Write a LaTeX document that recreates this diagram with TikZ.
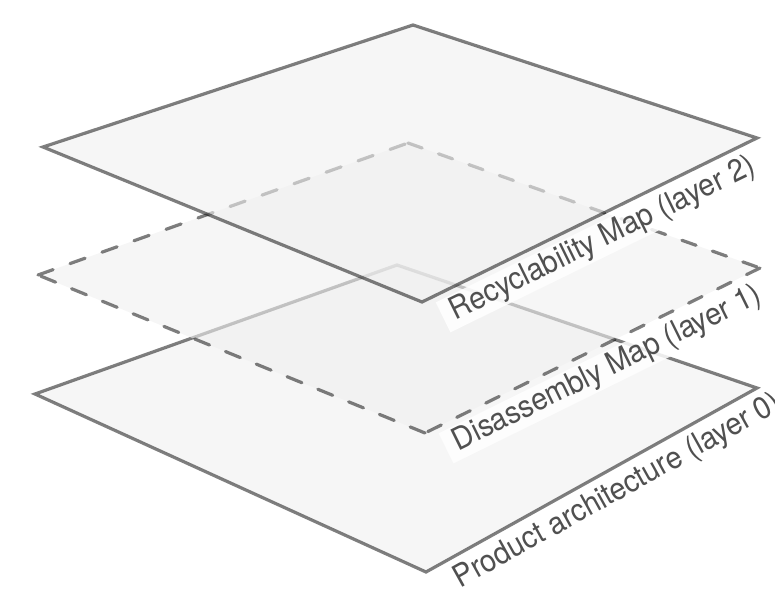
\documentclass[tikz,border=0pt]{standalone}
\usepackage{fontspec}
\setmainfont[FakeStretch=0.93]{TeX Gyre Heros}
\usetikzlibrary{calc}
\definecolor{txt}{HTML}{505050}
\definecolor{lyrfill}{HTML}{F0F0F0}
\begin{document}
\begin{tikzpicture}[x=1pt,y=-1pt,
  layerfill/.style={fill=lyrfill, fill opacity=0.6},
  layer/.style={layerfill, draw=black, draw opacity=0.5, line width=3.2pt},
  dashedge/.style={draw=black, line width=3.2pt, line cap=round},
  lbl/.style={fill=white, fill opacity=0.85, text opacity=1, text=txt,
    font=\fontsize{31}{33}\selectfont, inner xsep=10pt, inner ysep=2pt,
    anchor=base west}]
\useasboundingbox (0,0) rectangle (775,593);
\clip (0,0) rectangle (775,593);
% layer 0
\coordinate (L0) at (35,394);
\coordinate (T0) at (397,265);
\coordinate (R0) at (757,388);
\coordinate (B0) at (426,572);
% layer 1
\coordinate (L1) at (38,275);
\coordinate (T1) at (408,143);
\coordinate (R1) at (760,268);
\coordinate (B1) at (425,433);
% layer 2
\coordinate (L2) at (43,147);
\coordinate (T2) at (413,25);
\coordinate (R2) at (757,138);
\coordinate (B2) at (422,302);

\draw[layer] (L0) -- (T0) -- (R0) -- (B0) -- cycle;

\fill[layerfill] (L1) -- (T1) -- (R1) -- (B1) -- cycle;
\begin{scope}[transparency group, opacity=0.5]
  \draw[dashedge, dash pattern=on 16pt off 17.98pt] (L1) -- (T1);
  \draw[dashedge, dash pattern=on 15pt off 17.3pt] (T1) -- (R1);
  \draw[dashedge, dash pattern=on 15pt off 17.3pt] (R1) -- (B1);
  \draw[dashedge, dash pattern=on 16pt off 17.25pt] (B1) -- (L1);
\end{scope}

\draw[layer] (L2) -- (T2) -- (R2) -- (B2) -- cycle;

\coordinate (p2) at ($(B2)!12pt!(R2)!31pt!-90:(R2)$);
\coordinate (p1) at ($(B1)!12pt!(R1)!31pt!-90:(R1)$);
\coordinate (p0) at ($(B0)!12pt!(R0)!31pt!-90:(R0)$);

\path let \p1 = ($(R2)-(B2)$) in
  (p2) node[lbl, rotate={atan2(\y1,\x1)}] (lab2) {Recyclability Map (layer 2)};
\path let \p1 = ($(R1)-(B1)$) in
  (p1) node[lbl, rotate={atan2(\y1,\x1)}] (lab1) {Disassembly Map (layer 1)};
\path let \p1 = ($(R0)-(B0)$) in
  (p0) node[lbl, rotate={atan2(\y1,\x1)}] (lab0) {Product architecture (layer 0)};
\end{tikzpicture}
\end{document}
